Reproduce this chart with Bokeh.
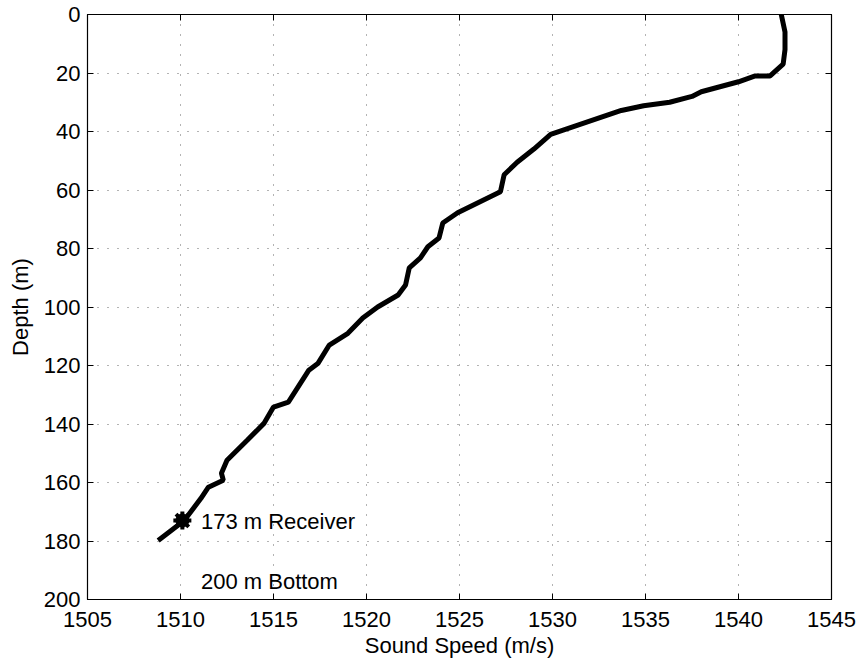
from bokeh.plotting import figure
from bokeh.models import Range1d, LinearAxis, FixedTicker, Label
from bokeh.embed import file_html
from bokeh.resources import INLINE

speed = [1542.3, 1542.5, 1542.5, 1542.4, 1541.7, 1540.9, 1540.0, 1538.0, 1537.5, 1536.3,
         1534.9, 1533.7, 1529.9, 1529.0, 1528.1, 1527.4, 1527.2, 1524.9, 1524.1, 1523.9,
         1523.3, 1522.9, 1522.3, 1522.1, 1521.7, 1520.6, 1519.8, 1519.0, 1518.0, 1517.4,
         1516.9, 1515.8, 1515.0, 1514.5, 1513.6, 1512.5, 1512.2, 1512.3, 1511.5, 1511.1,
         1510.2, 1508.8]
depth = [0, 6, 12, 17, 21, 21, 23, 26.4, 28, 30,
         31.2, 32.8, 41, 46, 50.5, 54.8, 60.6, 67.8, 71.3, 76.4,
         79.4, 83.2, 86.6, 92.5, 95.9, 100, 103.8, 109, 113, 119.2,
         121.6, 132.5, 134.2, 139.7, 145.5, 152.4, 156.8, 159.2, 161.6, 165.4,
         173, 179.8]

receiver_speed = [1510.1]
receiver_depth = [173]
receiver_label = "173 m Receiver"
bottom_label = "200 m Bottom"

x_ticks = [1505, 1510, 1515, 1520, 1525, 1530, 1535, 1540, 1545]
y_ticks = [0, 20, 40, 60, 80, 100, 120, 140, 160, 180, 200]

FONT = "Liberation Sans"
FS = "22px"

p = figure(width=861, height=665, output_backend="svg", toolbar_location=None,
           x_range=Range1d(1505, 1545), y_range=Range1d(200, 0),
           min_border_left=87, min_border_right=30, min_border_top=14, min_border_bottom=66,
           x_axis_label="Sound Speed (m/s)", y_axis_label="Depth (m)")
p.background_fill_color = "white"
p.outline_line_color = "black"
p.outline_line_width = 1.2

for ax in (p.xaxis[0], p.yaxis[0]):
    ax.major_label_text_font = FONT
    ax.major_label_text_font_size = FS
    ax.major_label_text_color = "black"
    ax.axis_label_text_font = FONT
    ax.axis_label_text_font_size = FS
    ax.axis_label_text_font_style = "normal"
    ax.axis_label_text_color = "black"
    ax.major_tick_in = 6
    ax.major_tick_out = 0
    ax.minor_tick_line_color = None
    ax.axis_line_color = "black"
    ax.major_tick_line_color = "black"
p.xaxis[0].ticker = FixedTicker(ticks=x_ticks)
p.yaxis[0].ticker = FixedTicker(ticks=y_ticks)
p.xaxis[0].major_label_standoff = 12
p.yaxis[0].major_label_standoff = 7
p.xaxis[0].axis_label_standoff = 3
p.yaxis[0].axis_label_standoff = 8

ra = LinearAxis(ticker=FixedTicker(ticks=y_ticks))
ra.major_label_overrides = {t: "" for t in y_ticks}
ta = LinearAxis(ticker=FixedTicker(ticks=x_ticks))
ta.major_label_overrides = {t: "" for t in x_ticks}
for ax in (ra, ta):
    ax.major_label_standoff = 0
    ax.major_tick_in = 6
    ax.major_tick_out = 0
    ax.minor_tick_line_color = None
    ax.axis_line_color = "black"
    ax.major_tick_line_color = "black"
p.add_layout(ra, "right")
p.add_layout(ta, "above")

p.xgrid.ticker = FixedTicker(ticks=x_ticks)
p.ygrid.ticker = FixedTicker(ticks=y_ticks)
for g in (p.xgrid, p.ygrid):
    g.grid_line_color = "black"
    g.grid_line_alpha = 0.6
    g.grid_line_dash = "1 9"
    g.grid_line_width = 1

p.line(speed, depth, line_color="black", line_width=5)
p.scatter(receiver_speed, receiver_depth, marker="asterisk", size=18, line_width=4, color="black")
p.scatter(receiver_speed, receiver_depth, marker="circle", size=13, color="black")

p.add_layout(Label(x=1511.1, y=173.3, text=receiver_label, text_font=FONT, text_font_size=FS,
                   text_baseline="middle", text_color="black"))
p.add_layout(Label(x=1511.1, y=194, text=bottom_label, text_font=FONT, text_font_size=FS,
                   text_baseline="middle", text_color="black"))

open("out.html", "w").write(file_html(p, INLINE))
